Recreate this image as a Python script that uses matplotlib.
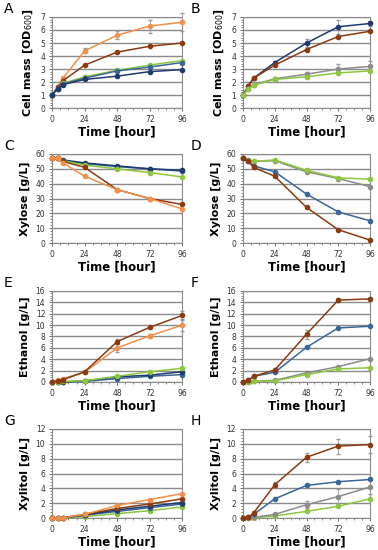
import matplotlib
matplotlib.use("Agg")
import matplotlib.pyplot as plt
from matplotlib.ticker import MultipleLocator
import numpy as np

time = [0, 4, 8, 24, 48, 72, 96]

ORANGE = "#F0904A"
BROWN = "#8B3A12"
GREEN = "#8DC63F"
STEEL = "#3A6796"
NAVY = "#1F3A6E"
GRAY = "#8C8C8C"

# Panel A: cell mass
A_orange = [1.0, 1.6, 2.3, 4.4, 5.6, 6.3, 6.6]
A_brown = [1.0, 1.6, 2.1, 3.3, 4.3, 4.75, 5.0]
A_green = [1.0, 1.5, 1.9, 2.4, 2.9, 3.3, 3.65]
A_steel = [1.0, 1.5, 1.85, 2.3, 2.85, 3.15, 3.5]
A_navy = [1.0, 1.5, 1.8, 2.2, 2.45, 2.8, 2.95]
A_err_orange = [0.05, 0.05, 0.1, 0.2, 0.3, 0.5, 0.7]

# Panel B: cell mass
B_navy = [1.0, 1.7, 2.3, 3.5, 5.0, 6.25, 6.5]
B_brown = [1.0, 1.7, 2.3, 3.3, 4.5, 5.5, 5.9]
B_gray = [1.0, 1.5, 1.8, 2.25, 2.6, 3.0, 3.2]
B_green = [1.0, 1.45, 1.75, 2.2, 2.4, 2.7, 2.85]
B_err_navy = [0.05, 0.05, 0.1, 0.15, 0.3, 0.55, 0.2]
B_err_gray = [0.05, 0.05, 0.1, 0.15, 0.2, 0.4, 0.4]

# Panel C: xylose
C_navy = [57, 57, 56, 54, 52, 50, 49]
C_steel = [57, 57, 55.5, 53.5, 51.5, 50, 48.5]
C_green = [57, 57, 55.5, 52.5, 50, 47.5, 44.5]
C_brown = [57, 57, 55, 51, 36, 30, 26]
C_orange = [57, 57, 54, 45, 36, 30, 23]

# Panel D: xylose
D_green = [57, 56, 55, 56, 49, 44, 43]
D_gray = [57, 56, 55, 55.5, 48, 43.5, 38]
D_steel = [57, 55, 52, 48, 33, 21, 15]
D_brown = [57, 55, 51, 45, 24, 9, 2]

# Panel E: ethanol
E_brown = [0, 0.2, 0.4, 1.8, 7.1, 9.6, 11.7]
E_orange = [0, 0.3, 0.6, 1.7, 6.0, 8.1, 10.0]
E_green = [0, 0, 0.1, 0.2, 1.0, 1.8, 2.4]
E_navy = [0, 0, 0, 0.2, 0.9, 1.2, 1.8]
E_steel = [0, 0, 0, 0.1, 0.6, 1.0, 1.3]
E_err_brown = [0, 0.1, 0.1, 0.2, 0.5, 0.3, 0.8]
E_err_orange = [0, 0.1, 0.1, 0.2, 0.7, 0.3, 1.0]

# Panel F: ethanol
F_brown = [0, 0.3, 1.0, 2.1, 8.4, 14.4, 14.6]
F_steel = [0, 0.3, 1.0, 1.7, 6.1, 9.5, 9.8]
F_gray = [0, 0, 0.1, 0.3, 1.6, 2.7, 4.1]
F_green = [0, 0, 0.1, 0.2, 1.3, 2.3, 2.5]
F_err_brown = [0, 0.1, 0.1, 0.3, 0.8, 0.3, 0.3]

# Panel G: xylitol
G_orange = [0, 0, 0.05, 0.5, 1.7, 2.5, 3.3]
G_brown = [0, 0, 0.05, 0.5, 1.3, 1.9, 2.6]
G_navy = [0, 0, 0.05, 0.4, 1.1, 1.6, 2.1]
G_steel = [0, 0, 0.05, 0.4, 0.9, 1.4, 1.9]
G_green = [0, 0, 0, 0.2, 0.6, 1.0, 1.5]

# Panel H: xylitol
H_brown = [0, 0.1, 0.7, 4.5, 8.2, 9.7, 9.9]
H_steel = [0, 0.1, 0.5, 2.6, 4.4, 4.9, 5.2]
H_gray = [0, 0, 0.1, 0.5, 1.8, 2.9, 4.2]
H_green = [0, 0, 0, 0.3, 0.9, 1.6, 2.6]
H_err_brown = [0, 0.1, 0.2, 0.3, 0.6, 1.0, 1.1]
H_err_gray = [0, 0, 0.1, 0.2, 0.5, 1.0, 1.0]

panels = [
    ("A", "Cell mass [OD$_{600}$]", 7, 1, [(A_orange, ORANGE, A_err_orange), (A_brown, BROWN, None), (A_green, GREEN, None), (A_steel, STEEL, None), (A_navy, NAVY, None)]),
    ("B", "Cell mass [OD$_{600}$]", 7, 1, [(B_navy, NAVY, B_err_navy), (B_brown, BROWN, None), (B_gray, GRAY, B_err_gray), (B_green, GREEN, None)]),
    ("C", "Xylose [g/L]", 60, 10, [(C_steel, STEEL, None), (C_navy, NAVY, None), (C_green, GREEN, None), (C_brown, BROWN, None), (C_orange, ORANGE, None)]),
    ("D", "Xylose [g/L]", 60, 10, [(D_gray, GRAY, None), (D_green, GREEN, None), (D_steel, STEEL, None), (D_brown, BROWN, None)]),
    ("E", "Ethanol [g/L]", 16, 2, [(E_steel, STEEL, None), (E_navy, NAVY, None), (E_green, GREEN, None), (E_orange, ORANGE, E_err_orange), (E_brown, BROWN, E_err_brown)]),
    ("F", "Ethanol [g/L]", 16, 2, [(F_gray, GRAY, None), (F_green, GREEN, None), (F_steel, STEEL, None), (F_brown, BROWN, F_err_brown)]),
    ("G", "Xylitol [g/L]", 12, 2, [(G_green, GREEN, None), (G_steel, STEEL, None), (G_navy, NAVY, None), (G_brown, BROWN, None), (G_orange, ORANGE, None)]),
    ("H", "Xylitol [g/L]", 12, 2, [(H_green, GREEN, None), (H_gray, GRAY, H_err_gray), (H_steel, STEEL, None), (H_brown, BROWN, H_err_brown)]),
]

fig = plt.figure(figsize=(3.78, 5.50), dpi=100)
lefts = [0.138, 0.643]
widths = [0.344, 0.336]
bottoms = [0.8036, 0.558, 0.3055, 0.058]
heights = [0.1655, 0.162, 0.1655, 0.162]

for i, (letter, ylabel, ymax, ystep, series) in enumerate(panels):
    r, c = divmod(i, 2)
    ax = fig.add_axes([lefts[c], bottoms[r], widths[c], heights[r]])
    for vals, col, err in series:
        ax.errorbar(time, vals, yerr=err, color=col, marker="o", markersize=3.0,
                    linewidth=1.1, elinewidth=0.6, ecolor="#999999", capsize=1.2,
                    zorder=3, clip_on=False)
    ax.set_xlim(0, 96)
    ax.set_ylim(0, ymax)
    ax.set_xticks([0, 24, 48, 72, 96])
    ax.xaxis.set_minor_locator(MultipleLocator(6))
    ax.yaxis.set_major_locator(MultipleLocator(ystep))
    ax.yaxis.set_minor_locator(MultipleLocator(ystep / 5))
    ax.grid(axis="y", which="major", color="#8A8A8A", linewidth=1.0, zorder=0)
    ax.set_axisbelow(True)
    ax.tick_params(axis="both", which="major", labelsize=5.5, length=2.5, width=0.6,
                   colors="#555555", labelcolor="#333333", pad=2.5)
    ax.tick_params(axis="both", which="minor", length=1.5, width=0.5, colors="#555555")
    for s in ax.spines.values():
        s.set_color("#8A8A8A")
        s.set_linewidth(0.8)
    ax.set_xlabel("Time [hour]", fontsize=8.5, fontweight="bold", labelpad=1)
    ax.set_ylabel(ylabel, fontsize=8, fontweight="bold", labelpad=4)
    fx = 0.01 if c == 0 else 0.505
    top = bottoms[r] + heights[r]
    fig.text(fx, top + 0.014, letter, fontsize=10, va="center", ha="left")

fig.savefig("out.png", dpi=100)
